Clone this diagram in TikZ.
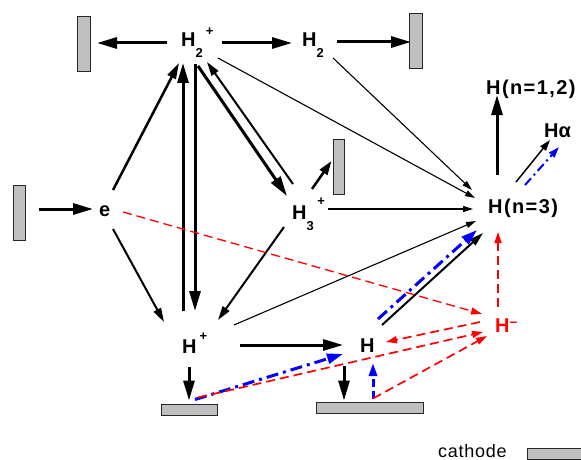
\documentclass[tikz,border=0pt]{standalone}
\usepackage{fontspec}
\setmainfont{Liberation Sans}
\usetikzlibrary{arrows.meta}
\definecolor{cath}{RGB}{192,192,192}
\definecolor{myblue}{RGB}{0,0,255}
\definecolor{myred}{RGB}{255,0,0}
\newcommand\lowsub[1]{\raisebox{-11pt}{\fontsize{13}{13}\selectfont #1}}
\newcommand\highsup[2]{\raisebox{#1}{\fontsize{13}{13}\selectfont #2}}
\begin{document}
\begin{tikzpicture}[x=1pt,y=-1pt,
  lbl/.style={inner sep=0pt, anchor=base west, font=\fontsize{20}{20}\selectfont\bfseries},
  wide/.style={font=\fontsize{20}{20}\selectfont\bfseries\addfontfeature{LetterSpace=7}},
  vcath/.style={draw=black!85, fill=cath, line width=1pt, inner sep=0pt, minimum width=13pt, minimum height=55pt},
  hcath/.style={draw=black!85, fill=cath, line width=1pt, inner sep=0pt, minimum height=11pt},
  big/.style={line width=3pt, -{Triangle[length=20pt,width=11pt]}},
  mid/.style={line width=2pt, -{Triangle[length=14pt,width=8pt]}},
  thin/.style={line width=1.1pt, -{Triangle[length=10pt,width=6pt]}},
  reddash/.style={myred, line width=1.7pt, dash pattern=on 9pt off 5pt, -{Triangle[length=11pt,width=7pt]}},
  bluedd/.style={myblue, line width=3pt, dash pattern=on 12pt off 5pt on 3pt off 5pt, -{Triangle[length=16pt,width=10pt]}},
  bluedash/.style={myblue, line width=3pt, dash pattern=on 8pt off 4pt, -{Triangle[length=13pt,width=8pt]}}
]
\useasboundingbox (0,0) rectangle (581,460);
% cathodes
\node[vcath] (c1) at (84,44.5) {};
\node[vcath] (c2) at (416,41) {};
\node[vcath, minimum width=11pt] (c3) at (338.5,167) {};
\node[vcath, minimum width=12pt] (c4) at (19,213) {};
\node[hcath, minimum width=56pt] (c5) at (189,409.5) {};
\node[hcath, minimum width=107pt] (c6) at (369.5,407.5) {};
\node[hcath, minimum width=60pt] (c7) at (557,453.5) {};
\node[inner sep=0pt, anchor=base west, font=\fontsize{18}{18}\selectfont\addfontfeature{LetterSpace=4}] (lg) at (438,457.5) {cathode};
% labels
\node[lbl] (h2p) at (181,47) {H\lowsub{2}\kern3pt\highsup{11pt}{+}};
\node[lbl] (h2) at (302,47) {H\lowsub{2}};
\node[lbl, wide] (hn12) at (486,94) {H(n=1,2)};
\node[lbl] (ha) at (544,137) {Hα};
\node[lbl, wide] (hn3) at (488,213) {H(n=3)};
\node[lbl] (e) at (99,216) {e};
\node[lbl] (h3p) at (292,219) {H\lowsub{3}\kern3.5pt\highsup{13.5pt}{+}};
\node[lbl] (hp) at (182,353) {H\kern3pt\highsup{12.5pt}{+}};
\node[lbl] (h) at (360,352) {H};
\node[lbl, text=myred] (hm) at (495,332) {H\raisebox{6pt}{\fontsize{14}{14}\selectfont –}};
% black arrows
\draw[big] ([shift={(-14,-4)}]h2p.base west) -- ([shift={(6,-1.5)}]c1.east);
\draw[big] ([shift={(41,-4)}]h2p.base west) -- ([shift={(-10,-4)}]h2.base west);
\draw[big] ([shift={(35,-5)}]h2.base west) -- ([shift={(2,1)}]c2.west);
\draw[big] ([shift={(13,-4)}]c4.east) -- ([shift={(-6,-7)}]e.base west);
\draw[line width=2.5pt, -{Triangle[length=16pt,width=9pt]}] ([shift={(14,-26)}]e.base west) -- ([shift={(-2,16)}]h2p.base west);
\draw[big] ([shift={(1,-42)}]hp.base west) -- ([shift={(2,16)}]h2p.base west);
\draw[big] ([shift={(14,17)}]h2p.base west) -- ([shift={(13,-42)}]hp.base west);
\draw[big] ([shift={(17,19)}]h2p.base west) -- ([shift={(-5,-23)}]h3p.base west);
\draw[mid] ([shift={(1,-35)}]h3p.base west) -- ([shift={(26,15)}]h2p.base west);
\draw[thin] ([shift={(37,11)}]h2p.base west) -- ([shift={(-13,-15)}]hn3.base west);
\draw[thin] ([shift={(31,11)}]h2.base west) -- ([shift={(-16,-23)}]hn3.base west);
\draw[line width=2.5pt, -{Triangle[length=14pt,width=9pt]}] ([shift={(20,-30)}]h3p.base west) -- ([shift={(-1,-6)}]c3.west);
\draw[thin] ([shift={(36,-10)}]h3p.base west) -- ([shift={(-15,-4)}]hn3.base west);
\draw[mid] ([shift={(-8,8)}]h3p.base west) -- ([shift={(36,-33)}]hp.base west);
\draw[mid] ([shift={(14,13)}]e.base west) -- ([shift={(-18,-31)}]hp.base west);
\draw[thin] ([shift={(52,-28)}]hp.base west) -- ([shift={(-12,8)}]hn3.base west);
\draw[mid] ([shift={(22,-27)}]h.base west) -- ([shift={(-5,20)}]hn3.base west);
\draw[big] ([shift={(9,-38)}]hn3.base west) -- ([shift={(11,1)}]hn12.base west);
\draw[line width=1.5pt, -{Triangle[length=11pt,width=7pt]}] ([shift={(28,-31)}]hn3.base west) -- ([shift={(6,3)}]ha.base west);
\draw[big] ([shift={(58,-8)}]hp.base west) -- ([shift={(-17,-7)}]h.base west);
\draw[big] ([shift={(7,14)}]hp.base west) -- ([shift={(0,-3)}]c5.north);
\draw[big] ([shift={(-16,14)}]h.base west) -- ([shift={(-25.5,-1)}]c6.north);
% blue arrows
\draw[bluedd] ([shift={(18,-33)}]h.base west) -- ([shift={(-11,17)}]hn3.base west);
\draw[bluedd, line width=2pt, dash pattern=on 9pt off 4pt on 2pt off 4pt, -{Triangle[length=11pt,width=7pt]}] ([shift={(37,-28)}]hn3.base west) -- ([shift={(15,10)}]ha.base west);
\draw[bluedd] ([shift={(6,-4)}]c5.north) -- ([shift={(-17,2)}]h.base west);
\draw[bluedash] ([shift={(3.5,-3)}]c6.north) -- ([shift={(13,11)}]h.base west);
% red arrows
\draw[reddash] ([shift={(9,-6)}]c5.north) -- ([shift={(-12,0)}]hm.base west);
\draw[reddash] ([shift={(3.5,-3)}]c6.north) -- ([shift={(-8,4)}]hm.base west);
\draw[reddash] ([shift={(-15,-10)}]hm.base west) -- ([shift={(26,-10)}]h.base west);
\draw[reddash, line width=1.3pt] ([shift={(24,-4)}]e.base west) -- ([shift={(-13,-18)}]hm.base west);
\draw[reddash] ([shift={(3,-25)}]hm.base west) -- ([shift={(10,19)}]hn3.base west);
\end{tikzpicture}
\end{document}
